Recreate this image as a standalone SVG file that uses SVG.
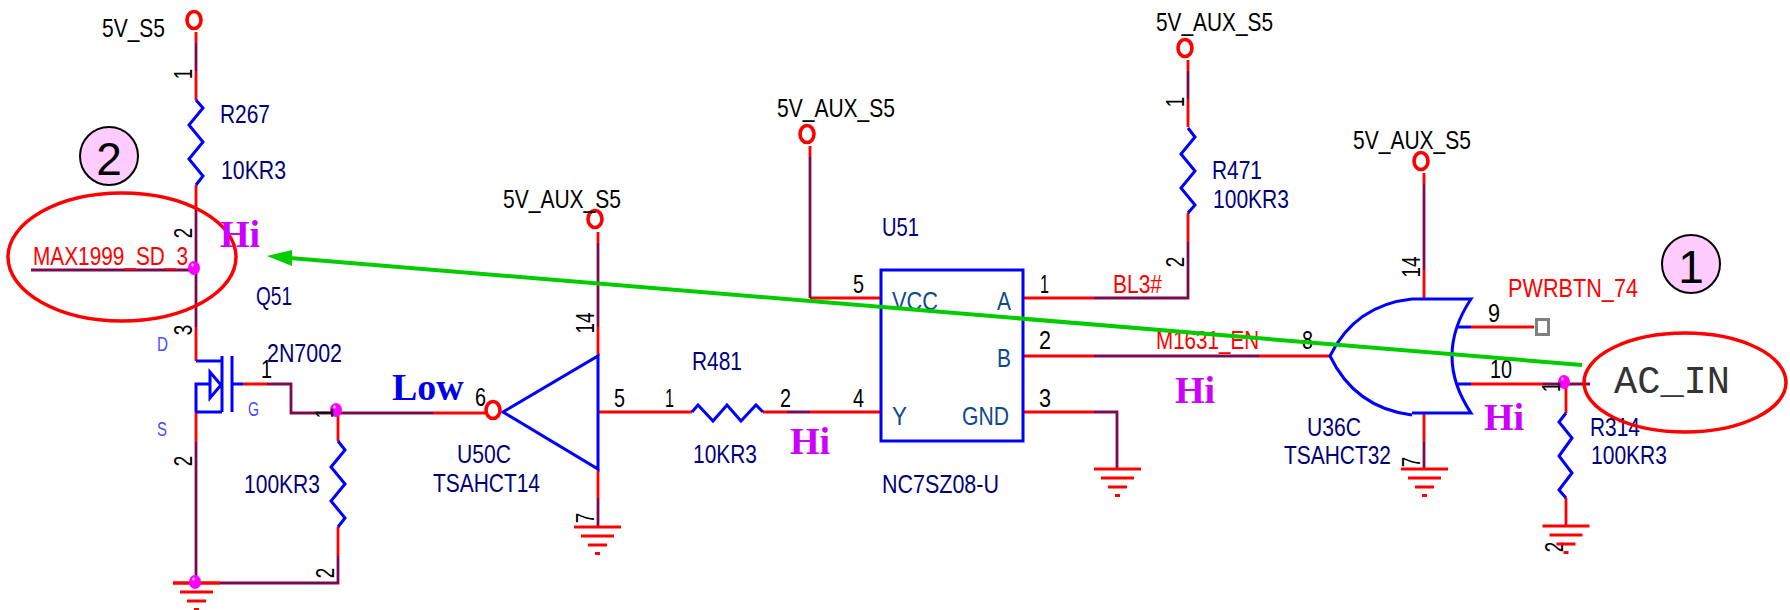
<svg xmlns="http://www.w3.org/2000/svg" width="1790" height="610" viewBox="0 0 1790 610">
<style>
text{font-family:"Liberation Sans",Arial,sans-serif;font-size:25px;fill:#000}
.v{fill:#00007a}
.n{fill:#ff0000}
.p{fill:#0d4a8c}
.t{fill:#4a4aff;font-size:20px}
.hi{font-family:"Liberation Serif","Times New Roman",serif;font-weight:bold;font-size:38px;fill:#cc00ff}
.low{font-family:"Liberation Serif","Times New Roman",serif;font-weight:bold;font-size:38px;fill:#0000e6}
.big{font-size:46px;text-anchor:middle}
.mono{font-family:"Liberation Mono","Courier New",monospace;font-size:38px;fill:#333}
.rot{text-anchor:middle;font-size:26px}
.r,.m,.b{fill:none;stroke-linejoin:miter}
.r{stroke:#ff0000;stroke-width:2.8}
.m{stroke:#7a0a50;stroke-width:2.8}
.b{stroke:#0000ff;stroke-width:3}
.pin{fill:#fff;stroke:#ff0000;stroke-width:3.6}
.j{fill:#ff00ff}
.h{fill:#ffd0ff}
.ring{fill:none;stroke:#ff0000;stroke-width:3.5}
.tag{fill:#ffccff;stroke:#000;stroke-width:2}
</style>
<defs>
<g id="gnd"><path class="r" d="M-23.500,0H23.500M-16.500,9H16.500M-9.500,18H9.500M-2.500,26.500H2.500"/></g>
<g id="dot"><ellipse class="j" cx="0" cy="0" rx="6" ry="7"/><ellipse class="h" cx="-1.500" cy="-3" rx="1.200" ry="1.800"/></g>
</defs>

<g id="connectors">
<path class="r" d="M196,32V43M196,71V100M196,185V208M196,327V361M196,412V442"/>
<path class="m" d="M196,43V71M196,208V327M196,442V583M31,270H190"/>
<path class="r" d="M243,384H267M433,413H486M338,413V441M338,527V556M173,583H220"/>
<path class="m" d="M267,384H291V413H433M338,556V583H220"/>
<path class="r" d="M598,232V243M598,327V356M598,469V498M598,412H692M763,412H787M810,412H881"/>
<path class="m" d="M598,243V327M598,498V527M787,412H810"/>
<path class="r" d="M810,146V157M810,298H881"/>
<path class="m" d="M810,157V298"/>
<path class="r" d="M1188,60V71M1188,99V127M1188,213V242M1023,298H1094"/>
<path class="m" d="M1188,71V99M1188,242V298H1094"/>
<path class="r" d="M1023,356H1094M1259,356H1330M1023,412H1094"/>
<path class="m" d="M1094,356H1259M1094,412H1117V469"/>
<path class="r" d="M1424,173V184M1424,270V299M1424,413V442M1471,327H1534M1471,384H1543M1566,384V413M1566,498V526"/>
<path class="m" d="M1424,184V270M1424,442V469M1543,384H1590"/>
</g>

<g id="pwr-5v-s5"><ellipse class="pin" cx="194" cy="20" rx="7" ry="8.500"/><text x="102" y="37" textLength="63" lengthAdjust="spacingAndGlyphs">5V_S5</text></g>
<g id="r267">
<path class="b" d="M196,100L203,108L189,125L203,142L189,159L203,176L196,185"/>
<text class="v" x="220" y="123" textLength="50" lengthAdjust="spacingAndGlyphs">R267</text>
<text class="v" x="221" y="179" textLength="65" lengthAdjust="spacingAndGlyphs">10KR3</text>
<text class="rot" transform="translate(192,74) rotate(-90)" textLength="10.500" lengthAdjust="spacingAndGlyphs">1</text>
<text class="rot" transform="translate(192,233) rotate(-90)" textLength="10.500" lengthAdjust="spacingAndGlyphs">2</text>
</g>
<g id="note-2"><circle class="tag" cx="109" cy="156" r="29"/><text class="big" x="109" y="175">2</text></g>
<g id="net-max1999"><ellipse class="ring" cx="122" cy="257" rx="114" ry="64"/><text class="n" x="33" y="265" textLength="155" lengthAdjust="spacingAndGlyphs">MAX1999_SD_3</text><use href="#dot" x="194" y="268"/></g>
<text class="hi" x="220" y="247">Hi</text>

<g id="q51">
<path class="b" d="M196,361H222M222,356V412M232,356V412M232,384H243M196,412H222M196,412V384H210M210,372V398L221,385Z"/>
<text class="v" x="256" y="305" textLength="36" lengthAdjust="spacingAndGlyphs">Q51</text>
<text class="v" x="267" y="362" textLength="75" lengthAdjust="spacingAndGlyphs">2N7002</text>
<text class="t" x="157" y="351" textLength="11" lengthAdjust="spacingAndGlyphs">D</text>
<text class="t" x="157" y="436" textLength="10" lengthAdjust="spacingAndGlyphs">S</text>
<text class="t" x="248" y="416" textLength="11" lengthAdjust="spacingAndGlyphs">G</text>
<text x="261" y="378" textLength="11" lengthAdjust="spacingAndGlyphs">1</text>
<text class="rot" transform="translate(192,330) rotate(-90)" textLength="10.500" lengthAdjust="spacingAndGlyphs">3</text>
<text class="rot" transform="translate(192,461) rotate(-90)" textLength="10.500" lengthAdjust="spacingAndGlyphs">2</text>
</g>
<g id="r-100k">
<path class="b" d="M338,441L345,450L331,467L345,484L331,501L345,518L338,527"/>
<use href="#dot" x="336" y="410"/>
<text class="rot" transform="translate(333,413) rotate(-90)" textLength="10.500" lengthAdjust="spacingAndGlyphs">1</text>
<text class="rot" transform="translate(334,573) rotate(-90)" textLength="10.500" lengthAdjust="spacingAndGlyphs">2</text>
<text class="v" x="244" y="493" textLength="76" lengthAdjust="spacingAndGlyphs">100KR3</text>
</g>
<g id="gnd-q51"><use href="#gnd" x="196.500" y="583"/><use href="#dot" x="195" y="582"/></g>
<text class="low" x="392" y="400">Low</text>

<g id="u50c">
<path class="b" d="M598,356V469L503,412Z"/>
<ellipse class="pin" cx="493" cy="410" rx="7" ry="8.500"/>
<ellipse class="pin" cx="595" cy="219" rx="7" ry="8.500"/>
<text x="503" y="208" textLength="118" lengthAdjust="spacingAndGlyphs">5V_AUX_S5</text>
<text x="475" y="406" textLength="11" lengthAdjust="spacingAndGlyphs">6</text>
<text x="614" y="407" textLength="11" lengthAdjust="spacingAndGlyphs">5</text>
<text class="rot" transform="translate(594,323) rotate(-90)" textLength="21" lengthAdjust="spacingAndGlyphs">14</text>
<text class="rot" transform="translate(594,518) rotate(-90)" textLength="10.500" lengthAdjust="spacingAndGlyphs">7</text>
<text class="v" x="457" y="463" textLength="54" lengthAdjust="spacingAndGlyphs">U50C</text>
<text class="v" x="433" y="492" textLength="107" lengthAdjust="spacingAndGlyphs">TSAHCT14</text>
<use href="#gnd" x="597.500" y="527"/>
</g>
<g id="r481">
<path class="b" d="M692,412L698,405L713,421L727,405L741,421L756,405L763,412"/>
<text x="665" y="407" textLength="9" lengthAdjust="spacingAndGlyphs">1</text>
<text x="780" y="407" textLength="11" lengthAdjust="spacingAndGlyphs">2</text>
<text class="v" x="692" y="370" textLength="50" lengthAdjust="spacingAndGlyphs">R481</text>
<text class="v" x="693" y="463" textLength="64" lengthAdjust="spacingAndGlyphs">10KR3</text>
</g>
<text class="hi" x="790" y="454">Hi</text>

<g id="u51">
<rect class="b" x="881" y="270" width="142" height="171"/>
<ellipse class="pin" cx="807" cy="134" rx="7" ry="8.500"/>
<text x="777" y="117" textLength="118" lengthAdjust="spacingAndGlyphs">5V_AUX_S5</text>
<text class="v" x="882" y="236" textLength="37" lengthAdjust="spacingAndGlyphs">U51</text>
<text class="p" x="892" y="310" textLength="46" lengthAdjust="spacingAndGlyphs">VCC</text>
<text class="p" x="997" y="310" textLength="14" lengthAdjust="spacingAndGlyphs">A</text>
<text class="p" x="997" y="367" textLength="14" lengthAdjust="spacingAndGlyphs">B</text>
<text class="p" x="892" y="425" textLength="15" lengthAdjust="spacingAndGlyphs">Y</text>
<text class="p" x="962" y="425" textLength="47" lengthAdjust="spacingAndGlyphs">GND</text>
<text x="853" y="293" textLength="11" lengthAdjust="spacingAndGlyphs">5</text>
<text x="853" y="407" textLength="11" lengthAdjust="spacingAndGlyphs">4</text>
<text x="1040" y="293" textLength="9" lengthAdjust="spacingAndGlyphs">1</text>
<text x="1039" y="349" textLength="12" lengthAdjust="spacingAndGlyphs">2</text>
<text x="1039" y="407" textLength="12" lengthAdjust="spacingAndGlyphs">3</text>
<text class="v" x="882" y="493" textLength="117" lengthAdjust="spacingAndGlyphs">NC7SZ08-U</text>
<use href="#gnd" x="1117.500" y="469"/>
</g>
<g id="r471">
<path class="b" d="M1188,128L1195,137L1181,154L1195,171L1181,188L1195,205L1188,213"/>
<ellipse class="pin" cx="1185" cy="48" rx="7" ry="8.500"/>
<text x="1156" y="31" textLength="117" lengthAdjust="spacingAndGlyphs">5V_AUX_S5</text>
<text class="rot" transform="translate(1184,102) rotate(-90)" textLength="10.500" lengthAdjust="spacingAndGlyphs">1</text>
<text class="rot" transform="translate(1184,262) rotate(-90)" textLength="10.500" lengthAdjust="spacingAndGlyphs">2</text>
<text class="v" x="1212" y="179" textLength="50" lengthAdjust="spacingAndGlyphs">R471</text>
<text class="v" x="1213" y="208" textLength="76" lengthAdjust="spacingAndGlyphs">100KR3</text>
</g>
<text class="n" id="net-bl3" x="1113" y="293" textLength="49" lengthAdjust="spacingAndGlyphs">BL3#</text>
<text class="n" id="net-m1631" x="1156" y="349" textLength="103" lengthAdjust="spacingAndGlyphs">M1631_EN</text>
<text class="hi" x="1175" y="403">Hi</text>

<g id="u36c">
<path class="b" d="M1412,415Q1355,408 1330,356Q1355,305 1412,299H1471Q1433,356 1471,413H1412M1457,327H1471M1457,384H1471"/>
<ellipse class="pin" cx="1421" cy="161" rx="7" ry="8.500"/>
<text x="1353" y="149" textLength="118" lengthAdjust="spacingAndGlyphs">5V_AUX_S5</text>
<text class="rot" transform="translate(1420,267) rotate(-90)" textLength="21" lengthAdjust="spacingAndGlyphs">14</text>
<text class="rot" transform="translate(1420,462) rotate(-90)" textLength="10.500" lengthAdjust="spacingAndGlyphs">7</text>
<text x="1302" y="349" textLength="11" lengthAdjust="spacingAndGlyphs">8</text>
<text x="1488" y="322" textLength="12" lengthAdjust="spacingAndGlyphs">9</text>
<text x="1490" y="378" textLength="22" lengthAdjust="spacingAndGlyphs">10</text>
<text class="v" x="1307" y="436" textLength="54" lengthAdjust="spacingAndGlyphs">U36C</text>
<text class="v" x="1284" y="464" textLength="107" lengthAdjust="spacingAndGlyphs">TSAHCT32</text>
<use href="#gnd" x="1424.500" y="469"/>
</g>
<g id="pwrbtn"><rect x="1536.500" y="319.500" width="12" height="15" fill="none" stroke="#808080" stroke-width="3"/><text class="n" x="1508" y="297" textLength="130" lengthAdjust="spacingAndGlyphs">PWRBTN_74</text></g>
<text class="hi" x="1484" y="430">Hi</text>
<g id="r314">
<path class="b" d="M1566,413L1559,422L1572,438L1559,456L1572,473L1559,490L1566,498"/>
<use href="#dot" x="1564" y="382"/>
<text class="rot" transform="translate(1560,387) rotate(-90)" textLength="10.500" lengthAdjust="spacingAndGlyphs">1</text>
<text class="rot" transform="translate(1563,547) rotate(-90)" textLength="10.500" lengthAdjust="spacingAndGlyphs">2</text>
<text class="v" x="1590" y="436" textLength="50" lengthAdjust="spacingAndGlyphs">R314</text>
<text class="v" x="1591" y="464" textLength="76" lengthAdjust="spacingAndGlyphs">100KR3</text>
<use href="#gnd" x="1566" y="526"/>
</g>
<g id="ac-in"><ellipse class="ring" cx="1685" cy="382.500" rx="101" ry="49.500"/><text class="mono" x="1614" y="393" textLength="116" lengthAdjust="spacingAndGlyphs">AC_IN</text></g>
<g id="note-1"><circle class="tag" cx="1691" cy="264" r="29"/><text class="big" x="1691" y="283">1</text></g>
<g id="arrow"><path d="M1582,365L290,258" fill="none" stroke="#00cc00" stroke-width="4"/><path d="M267,256L292,250V266Z" fill="#00cc00"/></g>
</svg>
